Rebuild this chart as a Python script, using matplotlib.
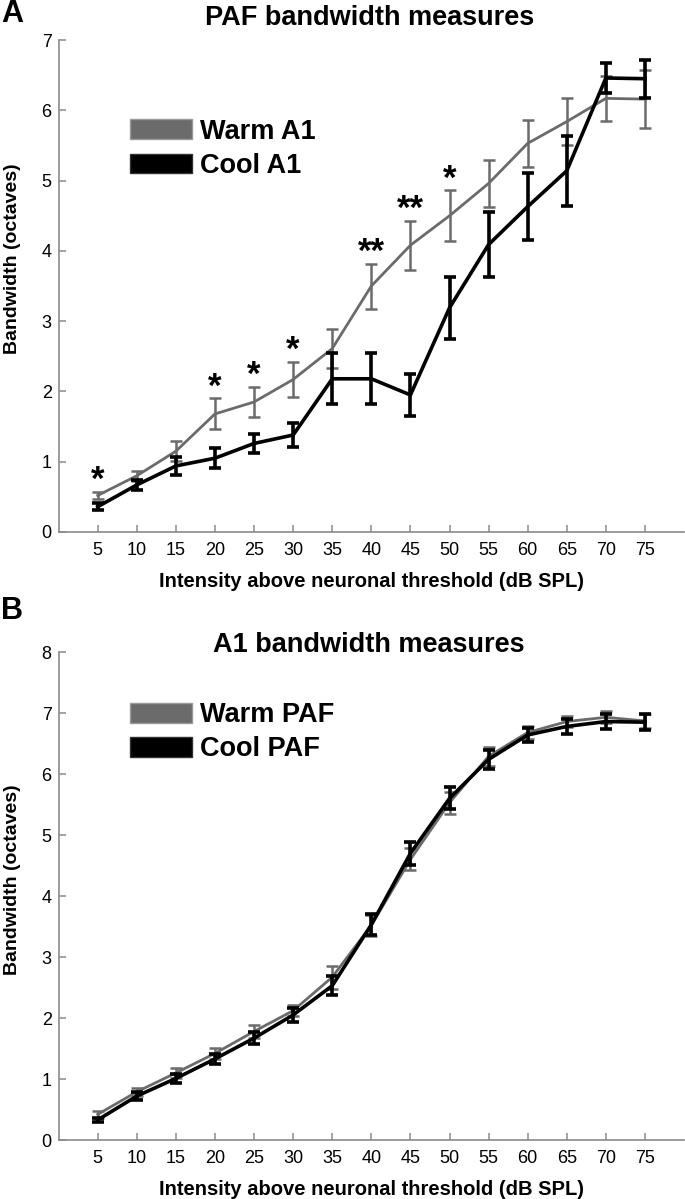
import numpy as np
import matplotlib
matplotlib.use('Agg')
from matplotlib import pyplot as plt
from matplotlib.patches import Patch

plt.rcParams['font.family'] = ['Liberation Sans', 'DejaVu Sans']

# intensity above threshold (dB SPL)
intensidad = [5, 10, 15, 20, 25, 30, 35, 40, 45, 50, 55, 60, 65, 70, 75]

# Panel A: PAF bandwidth, A1 warm vs cool
warm_a = [0.52, 0.80, 1.15, 1.68, 1.85, 2.17, 2.61, 3.50, 4.08, 4.50, 4.96, 5.53, 5.84, 6.17, 6.16]
warm_a_err = [0.05, 0.07, 0.14, 0.22, 0.22, 0.25, 0.28, 0.32, 0.35, 0.36, 0.34, 0.33, 0.34, 0.32, 0.41]
cool_a = [0.36, 0.67, 0.94, 1.05, 1.26, 1.38, 2.18, 2.18, 1.95, 3.19, 4.09, 4.63, 5.14, 6.46, 6.45]
cool_a_err = [0.05, 0.07, 0.13, 0.14, 0.14, 0.17, 0.36, 0.36, 0.30, 0.44, 0.46, 0.48, 0.50, 0.22, 0.27]
signif_a = ['*', '', '', '*', '*', '*', '', '**', '**', '*', '', '', '', '', '']

# Panel B: A1 bandwidth, PAF warm vs cool
warm_b = [0.42, 0.79, 1.10, 1.42, 1.78, 2.12, 2.67, 3.52, 4.60, 5.53, 6.29, 6.68, 6.86, 6.93, 6.87]
warm_b_err = [0.06, 0.07, 0.08, 0.09, 0.11, 0.09, 0.19, 0.17, 0.18, 0.18, 0.16, 0.11, 0.09, 0.10, 0.12]
cool_b = [0.33, 0.72, 1.01, 1.33, 1.67, 2.05, 2.53, 3.53, 4.70, 5.60, 6.24, 6.64, 6.78, 6.86, 6.85]
cool_b_err = [0.03, 0.06, 0.07, 0.08, 0.10, 0.11, 0.16, 0.17, 0.19, 0.18, 0.16, 0.12, 0.13, 0.13, 0.13]

GRIS = '#6b6b6b'


def panel(ax, warm, warm_err, cool, cool_err, ymax, nombres, ylab_y):
    ax.errorbar(intensidad, warm, yerr=warm_err, color=GRIS, lw=2, elinewidth=1.8,
                capsize=4, capthick=1.8, zorder=2)
    ax.errorbar(intensidad, cool, yerr=cool_err, color='black', lw=2.6, elinewidth=2.6,
                capsize=4.5, capthick=2.6, zorder=3)
    ax.set_xlim(0, 80)
    ax.set_ylim(0, ymax)
    ax.set_xticks(intensidad)
    ax.set_yticks(range(0, ymax + 1))
    for s in ['top', 'right']:
        ax.spines[s].set_visible(False)
    for s in ['left', 'bottom']:
        ax.spines[s].set_color('#8a8a8a')
        ax.spines[s].set_linewidth(1.2)
    ax.tick_params(direction='in', length=5, width=1.1, color='#8a8a8a', labelsize=13, pad=5)
    ax.tick_params(axis='x', pad=7)
    ax.set_xlabel('Intensity above neuronal threshold (dB SPL)', fontsize=14.5, fontweight='bold')
    ax.set_ylabel('Bandwidth (octaves)', fontsize=14, fontweight='bold')
    ax.xaxis.set_label_coords(0.5, -0.082)
    ax.yaxis.set_label_coords(-0.06, ylab_y)
    handles = [Patch(facecolor=GRIS, edgecolor='#9a9a9a', lw=1),
               Patch(facecolor='black', edgecolor='#333333', lw=1)]
    ax.legend(handles, nombres, loc='upper left', frameon=False, prop={'size': 19.5, 'weight': 'bold'},
              handlelength=2.3, handleheight=0.75, handletextpad=0.3, labelspacing=0.3,
              borderpad=0, borderaxespad=0)


fig = plt.figure(figsize=(6.85, 11.99), dpi=100)
ax1 = fig.add_axes([0.0856, 0.5563, 0.913, 0.4103])
ax2 = fig.add_axes([0.0856, 0.0492, 0.913, 0.407])

panel(ax1, warm_a, warm_a_err, cool_a, cool_a_err, 7, ['Warm A1', 'Cool A1'], 0.555)
ax1.get_legend().set_bbox_to_anchor((0.114, 0.84))
panel(ax2, warm_b, warm_b_err, cool_b, cool_b_err, 8, ['Warm PAF', 'Cool PAF'], 0.533)
ax2.get_legend().set_bbox_to_anchor((0.114, 0.897))

# significance stars
for x, w, e, s in zip(intensidad, warm_a, warm_a_err, signif_a):
    if s:
        ax1.text(x, w + e - 0.07, s, ha='center', va='bottom', fontsize=25, fontweight='bold')

fig.text(0.539, 0.985, 'PAF bandwidth measures', ha='center', va='center', fontsize=19.5, fontweight='bold')
fig.text(0.539, 0.462, 'A1 bandwidth measures', ha='center', va='center', fontsize=19.5, fontweight='bold')
fig.text(0.002, 0.988, 'A', ha='left', va='center', fontsize=22, fontweight='bold')
fig.text(0.002, 0.49, 'B', ha='left', va='center', fontsize=22, fontweight='bold')

fig.savefig('out.png', dpi=100)
